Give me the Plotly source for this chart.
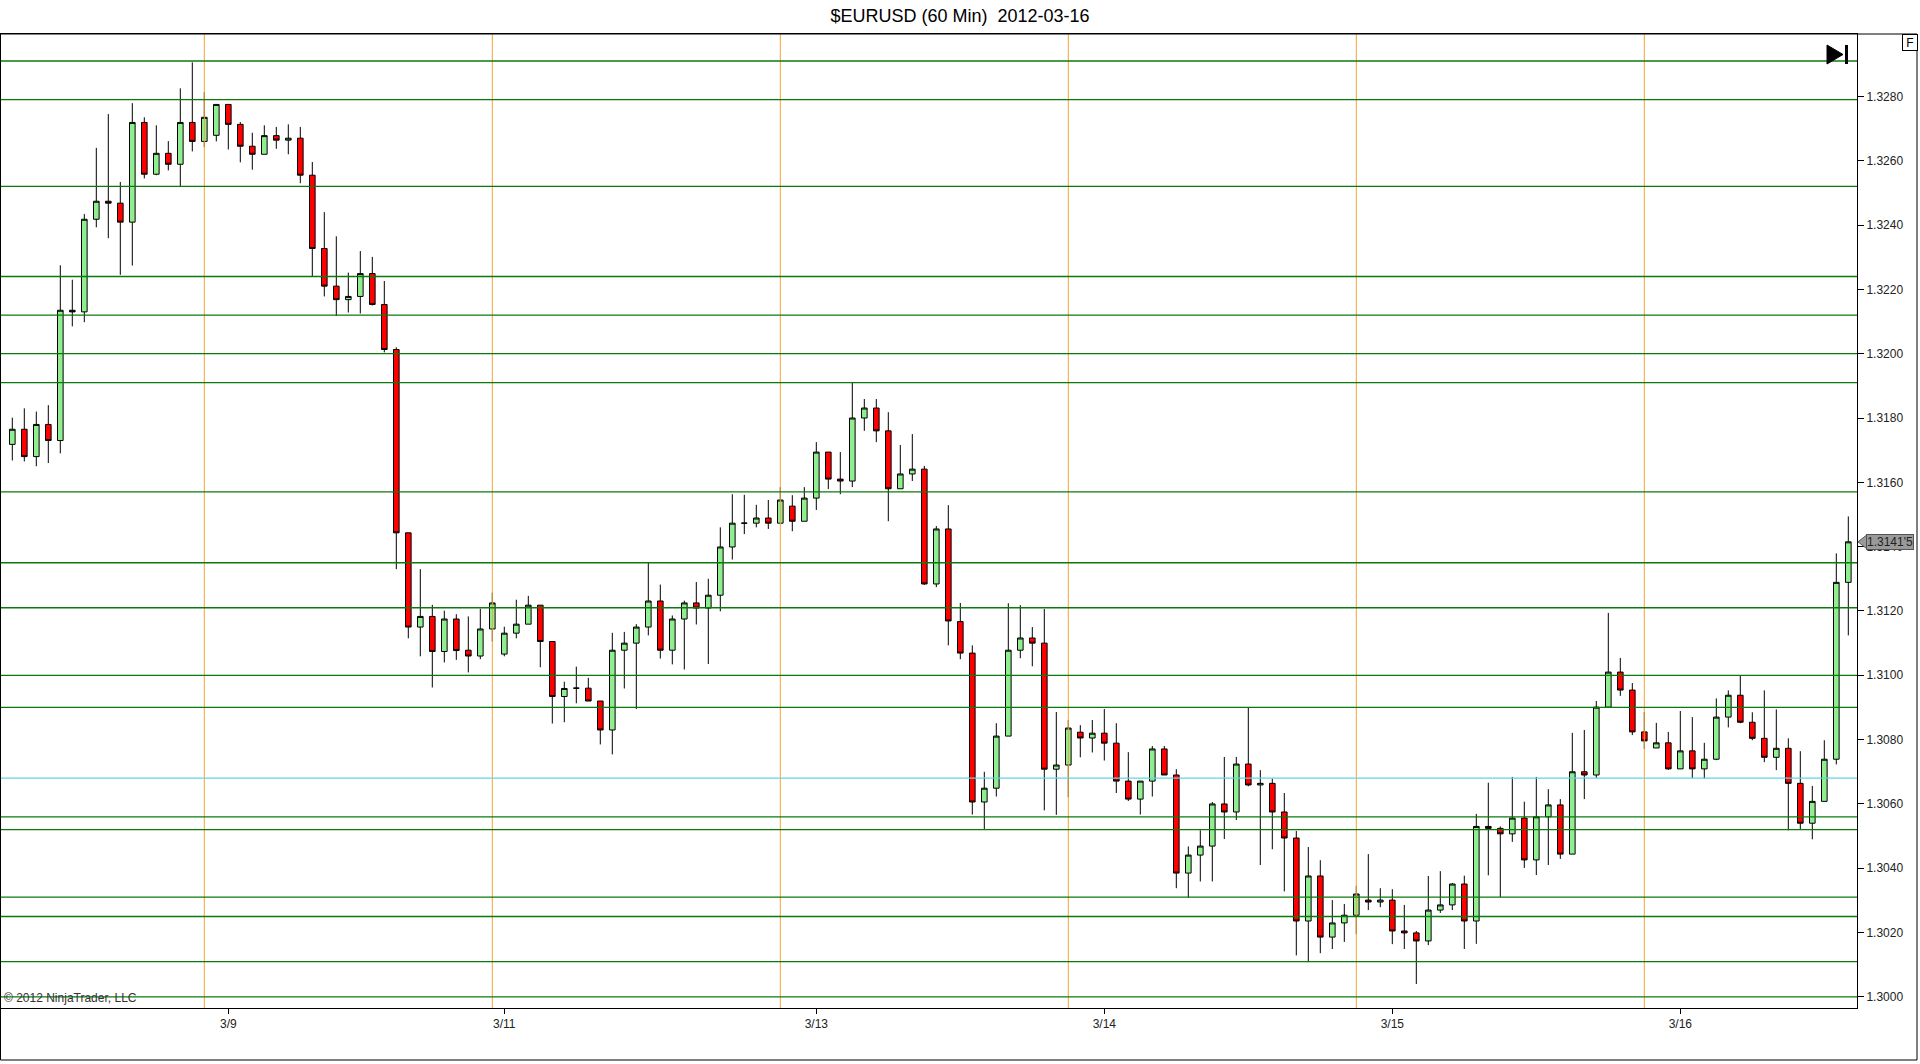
import plotly.graph_objects as go

# hourly EURUSD bars, 2012-03-08 .. 2012-03-16 (bar index on x)
opens = [1.31718, 1.31765, 1.31680, 1.31780, 1.31730, 1.32135, 1.32130, 1.32418, 1.32474, 1.32468,
         1.32409, 1.32719, 1.32558, 1.32623, 1.32589, 1.32719, 1.32660, 1.32679, 1.32775, 1.32713,
         1.32645, 1.32620, 1.32678, 1.32664, 1.32670, 1.32555, 1.32327, 1.32210, 1.32168, 1.32178,
         1.32249, 1.32153, 1.32013, 1.31443, 1.31150, 1.31183, 1.31074, 1.31175, 1.31078, 1.31060,
         1.31144, 1.31066, 1.31131, 1.31159, 1.31218, 1.31105, 1.30934, 1.30960, 1.30960, 1.30920,
         1.30830, 1.31078, 1.31100, 1.31150, 1.31231, 1.31078, 1.31175, 1.31225, 1.31209, 1.31249,
         1.31399, 1.31473, 1.31473, 1.31489, 1.31473, 1.31526, 1.31479, 1.31551, 1.31694, 1.31610,
         1.31604, 1.31800, 1.31831, 1.31760, 1.31580, 1.31626, 1.31641, 1.31284, 1.31455, 1.31167,
         1.31069, 1.30606, 1.30649, 1.30811, 1.31078, 1.31116, 1.31100, 1.30708, 1.30721, 1.30823,
         1.30805, 1.30820, 1.30789, 1.30671, 1.30615, 1.30671, 1.30771, 1.30690, 1.30385, 1.30441,
         1.30469, 1.30600, 1.30575, 1.30724, 1.30659, 1.30664, 1.30575, 1.30494, 1.30236, 1.30376,
         1.30186, 1.30230, 1.30254, 1.30301, 1.30295, 1.30301, 1.30205, 1.30199, 1.30174, 1.30270,
         1.30286, 1.30351, 1.30236, 1.30530, 1.30524, 1.30507, 1.30556, 1.30426, 1.30560, 1.30597,
         1.30444, 1.30700, 1.30690, 1.30901, 1.31010, 1.30954, 1.30824, 1.30774, 1.30790, 1.30709,
         1.30765, 1.30709, 1.30739, 1.30870, 1.30938, 1.30854, 1.30804, 1.30745, 1.30773, 1.30664,
         1.30540, 1.30608, 1.30739, 1.31289]
highs = [1.31801, 1.31830, 1.31820, 1.31840, 1.32275, 1.32230, 1.32434, 1.32640, 1.32745, 1.32534,
         1.32779, 1.32735, 1.32710, 1.32661, 1.32825, 1.32906, 1.32813, 1.32775, 1.32775, 1.32720,
         1.32687, 1.32710, 1.32705, 1.32713, 1.32705, 1.32596, 1.32440, 1.32365, 1.32252, 1.32319,
         1.32301, 1.32226, 1.32020, 1.31443, 1.31330, 1.31219, 1.31201, 1.31190, 1.31183, 1.31207,
         1.31257, 1.31151, 1.31235, 1.31247, 1.31218, 1.31105, 1.30980, 1.31027, 1.30992, 1.30920,
         1.31132, 1.31135, 1.31159, 1.31350, 1.31282, 1.31186, 1.31232, 1.31290, 1.31300, 1.31460,
         1.31563, 1.31561, 1.31530, 1.31545, 1.31585, 1.31560, 1.31585, 1.31725, 1.31694, 1.31694,
         1.31912, 1.31859, 1.31859, 1.31818, 1.31716, 1.31750, 1.31651, 1.31464, 1.31529, 1.31225,
         1.31093, 1.30700, 1.30851, 1.31224, 1.31218, 1.31150, 1.31206, 1.30886, 1.30861, 1.30845,
         1.30861, 1.30895, 1.30851, 1.30761, 1.30671, 1.30780, 1.30780, 1.30708, 1.30468, 1.30518,
         1.30606, 1.30746, 1.30746, 1.30901, 1.30705, 1.30679, 1.30634, 1.30516, 1.30466, 1.30425,
         1.30301, 1.30289, 1.30345, 1.30444, 1.30338, 1.30335, 1.30286, 1.30205, 1.30376, 1.30391,
         1.30354, 1.30377, 1.30569, 1.30666, 1.30530, 1.30684, 1.30607, 1.30684, 1.30646, 1.30615,
         1.30821, 1.30830, 1.30920, 1.31194, 1.31054, 1.30976, 1.30886, 1.30852, 1.30824, 1.30889,
         1.30870, 1.30790, 1.30928, 1.30953, 1.31000, 1.30885, 1.30953, 1.30894, 1.30804, 1.30764,
         1.30656, 1.30798, 1.31379, 1.31494]
lows = [1.31668, 1.31665, 1.31650, 1.31660, 1.31690, 1.32085, 1.32098, 1.32393, 1.32359, 1.32245,
        1.32274, 1.32545, 1.32555, 1.32570, 1.32519, 1.32629, 1.32642, 1.32660, 1.32635, 1.32595,
        1.32572, 1.32620, 1.32637, 1.32620, 1.32530, 1.32239, 1.32178, 1.32117, 1.32128, 1.32125,
        1.32150, 1.32004, 1.31330, 1.31115, 1.31059, 1.30962, 1.31040, 1.31048, 1.31009, 1.31050,
        1.31105, 1.31059, 1.31115, 1.31159, 1.31025, 1.30850, 1.30854, 1.30913, 1.30920, 1.30785,
        1.30754, 1.30959, 1.30895, 1.31124, 1.31052, 1.31034, 1.31018, 1.31158, 1.31035, 1.31199,
        1.31360, 1.31439, 1.31460, 1.31455, 1.31473, 1.31448, 1.31479, 1.31514, 1.31579, 1.31563,
        1.31585, 1.31760, 1.31725, 1.31479, 1.31580, 1.31604, 1.31281, 1.31274, 1.31093, 1.31050,
        1.30567, 1.30520, 1.30623, 1.30811, 1.31053, 1.31028, 1.30580, 1.30566, 1.30621, 1.30745,
        1.30760, 1.30735, 1.30634, 1.30609, 1.30567, 1.30623, 1.30690, 1.30338, 1.30308, 1.30359,
        1.30359, 1.30491, 1.30550, 1.30655, 1.30410, 1.30459, 1.30328, 1.30129, 1.30108, 1.30136,
        1.30149, 1.30171, 1.30195, 1.30270, 1.30279, 1.30164, 1.30149, 1.30040, 1.30161, 1.30261,
        1.30270, 1.30149, 1.30165, 1.30378, 1.30310, 1.30482, 1.30401, 1.30379, 1.30410, 1.30429,
        1.30444, 1.30615, 1.30681, 1.30901, 1.30936, 1.30814, 1.30771, 1.30774, 1.30706, 1.30709,
        1.30680, 1.30678, 1.30736, 1.30838, 1.30851, 1.30798, 1.30730, 1.30705, 1.30518, 1.30521,
        1.30490, 1.30608, 1.30723, 1.31124]
closes = [1.31765, 1.31680, 1.31780, 1.31730, 1.32135, 1.32130, 1.32418, 1.32474, 1.32468, 1.32409,
          1.32719, 1.32558, 1.32623, 1.32589, 1.32719, 1.32660, 1.32735, 1.32775, 1.32713, 1.32645,
          1.32620, 1.32678, 1.32664, 1.32670, 1.32555, 1.32327, 1.32210, 1.32168, 1.32178, 1.32249,
          1.32153, 1.32013, 1.31443, 1.31150, 1.31183, 1.31074, 1.31175, 1.31077, 1.31060, 1.31144,
          1.31225, 1.31131, 1.31159, 1.31218, 1.31105, 1.30934, 1.30959, 1.30960, 1.30920, 1.30830,
          1.31078, 1.31100, 1.31150, 1.31231, 1.31078, 1.31175, 1.31225, 1.31209, 1.31249, 1.31399,
          1.31473, 1.31473, 1.31489, 1.31473, 1.31545, 1.31479, 1.31551, 1.31694, 1.31610, 1.31604,
          1.31800, 1.31831, 1.31760, 1.31580, 1.31626, 1.31641, 1.31284, 1.31455, 1.31169, 1.31069,
          1.30606, 1.30649, 1.30811, 1.31078, 1.31116, 1.31100, 1.30708, 1.30721, 1.30836, 1.30805,
          1.30820, 1.30789, 1.30671, 1.30615, 1.30671, 1.30771, 1.30690, 1.30385, 1.30441, 1.30469,
          1.30600, 1.30575, 1.30724, 1.30659, 1.30664, 1.30575, 1.30494, 1.30236, 1.30376, 1.30186,
          1.30230, 1.30254, 1.30320, 1.30295, 1.30301, 1.30205, 1.30199, 1.30174, 1.30270, 1.30286,
          1.30351, 1.30236, 1.30530, 1.30524, 1.30507, 1.30556, 1.30426, 1.30560, 1.30597, 1.30444,
          1.30700, 1.30690, 1.30901, 1.31010, 1.30954, 1.30824, 1.30796, 1.30790, 1.30709, 1.30765,
          1.30709, 1.30739, 1.30870, 1.30938, 1.30854, 1.30804, 1.30745, 1.30773, 1.30664, 1.30540,
          1.30608, 1.30739, 1.31289, 1.31415]

# date labels (bar index of the first bar of each shown day)
label_bars = [18, 41, 67, 91, 115, 139]
label_text = ['3/9', '3/11', '3/13', '3/14', '3/15', '3/16']

# session break lines (bar index)
session_breaks = [16, 40, 64, 88, 112, 136]

# drawn horizontal price levels
levels = [1.3291, 1.3279, 1.3252, 1.3224, 1.3212, 1.3200, 1.3191, 1.3157, 1.3135,
          1.3121, 1.3100, 1.3090, 1.3056, 1.3052, 1.3031, 1.3025, 1.3011, 1.3000]
cyan_level = 1.3068

last_price = closes[-1]
last_label = "1.3141'5"

W, H = 1920, 1064
L, R, T, B = 0, 63, 34, 56
PW, PH = W - L - R, H - T - B


def px(x):
    return (x - L) / PW


def py(y):
    return (H - B - y) / PH


fig = go.Figure(go.Candlestick(
    x=list(range(len(opens))),
    open=opens, high=highs, low=lows, close=closes,
    increasing=dict(fillcolor='#90EE90', line=dict(color='black', width=1)),
    decreasing=dict(fillcolor='#FF0000', line=dict(color='black', width=1)),
    whiskerwidth=0,
    hoverinfo='x+y',
    showlegend=False))

shapes = []
for b in session_breaks:
    shapes.append(dict(type='line', xref='x', yref='paper', x0=b, x1=b, y0=0, y1=1,
                       line=dict(color='#f2a33a', width=1), layer='above'))
for lv in levels:
    shapes.append(dict(type='line', xref='paper', yref='y', x0=0, x1=1, y0=lv, y1=lv,
                       line=dict(color='#0b7a0b', width=1.3), layer='above'))
shapes.append(dict(type='line', xref='paper', yref='y', x0=0, x1=1, y0=cyan_level, y1=cyan_level,
                   line=dict(color='#5fd6e6', width=1.3), layer='above'))

# outer frame
shapes.append(dict(type='rect', xref='paper', yref='paper', x0=px(0.5), x1=px(1917), y0=py(1060), y1=1,
                   line=dict(color='black', width=1), fillcolor='rgba(0,0,0,0)'))

# "go to last bar" icon
shapes.append(dict(type='path', xref='paper', yref='paper',
                   path='M %f,%f L %f,%f L %f,%f Z' % (px(1827), py(45), px(1843), py(54.5), px(1827), py(64)),
                   fillcolor='black', line=dict(color='black', width=1)))
shapes.append(dict(type='rect', xref='paper', yref='paper', x0=px(1845), x1=px(1848), y0=py(64), y1=py(45),
                   fillcolor='black', line=dict(color='black', width=0)))

# last price marker notch
dy = 7 / 3.217 * 0.0001
shapes.append(dict(type='path', xref='paper', yref='y',
                   path='M %f,%f L %f,%f L %f,%f Z' % (px(1858), last_price, px(1867), last_price + dy,
                                                        px(1867), last_price - dy),
                   fillcolor='#9a9a9a', line=dict(color='#555555', width=1)))

annotations = [
    dict(text=last_label, xref='paper', yref='y', x=px(1866), y=last_price, xanchor='left', yanchor='middle',
         showarrow=False, bgcolor='#9a9a9a', bordercolor='#555555', borderwidth=1, borderpad=0,
         font=dict(family='Liberation Sans, Arial', size=12, color='#222222')),
    dict(text='F', xref='paper', yref='paper', x=px(1909.5), y=py(42.5), xanchor='center', yanchor='middle',
         showarrow=False, bgcolor='white', bordercolor='black', borderwidth=1, borderpad=1,
         width=12, height=13,
         font=dict(family='Liberation Sans, Arial', size=12, color='black')),
    dict(text='© 2012 NinjaTrader, LLC', xref='paper', yref='paper', x=0, y=0, xanchor='left', yanchor='bottom',
         xshift=2, yshift=1, showarrow=False,
         font=dict(family='Liberation Sans, Arial', size=12, color='#333333')),
]

fig.update_layout(
    width=W, height=H,
    margin=dict(l=L, r=R, t=T, b=B),
    paper_bgcolor='white', plot_bgcolor='white',
    font=dict(family='Liberation Sans, Arial', size=12, color='#222222'),
    title=dict(text='$EURUSD (60 Min)\u00a0 2012-03-16', x=0.5, xanchor='center',
               y=1 - 16 / H, yanchor='middle', yref='container',
               font=dict(family='Liberation Sans, Arial', size=18, color='black')),
    xaxis=dict(range=[-1.025, (PW - 12.3) / 12], showgrid=False, zeroline=False,
               showline=True, linecolor='black', linewidth=1, mirror=True,
               ticks='outside', ticklen=5, tickcolor='black',
               tickvals=label_bars, ticktext=label_text,
               tickfont=dict(size=12, color='#222222'),
               rangeslider=dict(visible=False)),
    yaxis=dict(side='right', range=[1.299655, 1.32994], showgrid=False, zeroline=False,
               showline=True, linecolor='black', linewidth=1, mirror=True,
               ticks='outside', ticklen=6, tickcolor='black',
               tick0=1.3, dtick=0.002, tickformat='.4f',
               tickfont=dict(size=12, color='#222222')),
    boxgap=0.33,
    shapes=shapes,
    annotations=annotations,
    showlegend=False,
)

fig.write_html("out.html", config={'displayModeBar': False},
               post_script="document.body.style.margin='0';document.body.style.overflow='hidden';")
